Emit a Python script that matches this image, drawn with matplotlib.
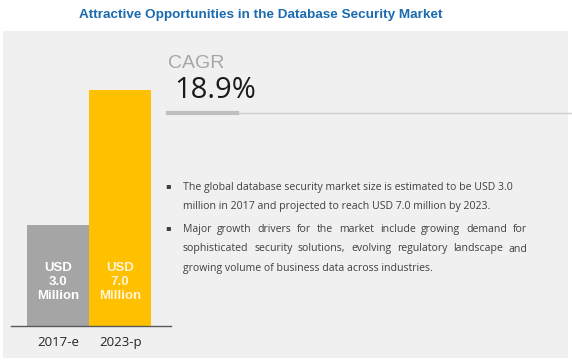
import matplotlib
matplotlib.use("Agg")
import matplotlib.pyplot as plt
from matplotlib.patches import Rectangle
from matplotlib.lines import Line2D

W, H = 572, 361

years = ["2017-e", "2023-p"]
values = [3.0, 7.0]
bar_labels = ["USD\n3.0\nMillion", "USD\n7.0\nMillion"]
bar_colors = ["#a5a5a5", "#ffc000"]
label_colors = ["#ffffff", "#fff4d6"]
title = "Attractive Opportunities in the Database Security Market"
cagr_label = "CAGR"
cagr_value = "18.9%"
bullets = [
    ["The global database security market size is estimated to be USD 3.0",
     "million in 2017 and projected to reach USD 7.0 million by 2023."],
    ["Major growth drivers for the market include growing demand for",
     "sophisticated security solutions, evolving regulatory landscape and",
     "growing volume of business data across industries."],
]

narrow = ["Liberation Sans Narrow", "Liberation Sans", "DejaVu Sans"]
body = ["Open Sans", "DejaVu Sans"]


def fx(x):
    return x / W


def fy(y):
    return 1 - y / H


fig = plt.figure(figsize=(W / 100, H / 100), dpi=100)
fig.patch.set_facecolor("white")

# grey panel
fig.patches.append(Rectangle((fx(3), fy(358)), fx(565), 327 / H, transform=fig.transFigure,
                             facecolor="#f0f0f0", edgecolor="none", zorder=-5))

fig.text(fx(261), fy(15), title, ha="center", va="center", fontsize=9.7,
         fontweight="bold", color="#1b6bb0", family=narrow)

# bar chart
ax = fig.add_axes([fx(11), 35 / H, fx(160), 270 / H])
ax.set_zorder(2)
ax.set_facecolor("none")
xs = range(len(values))
ax.bar(xs, values, width=1.0, color=bar_colors, zorder=2)
ax.set_xlim(-0.76, 1.82)
ax.set_ylim(0, 8)
for s in ["top", "right", "left"]:
    ax.spines[s].set_visible(False)
ax.spines["bottom"].set_color("#595959")
ax.spines["bottom"].set_linewidth(1.0)
ax.set_yticks([])
ax.set_xticks(list(xs))
ax.set_xticklabels(years, fontsize=9.5, color="#262626", family=["Open Sans", "DejaVu Sans"])
ax.tick_params(axis="x", length=0, pad=7)
for i, lab in enumerate(bar_labels):
    ax.text(i, 1.3, lab, ha="center", va="center", color=label_colors[i], fontsize=9.5,
            linespacing=1.2, family=narrow, fontweight="bold")

# CAGR block
fig.text(fx(168), fy(63), cagr_label, ha="left", va="center", fontsize=14,
         color="#a6a6a6", family=narrow)
fig.text(fx(174), fy(91), cagr_value, ha="left", va="center", fontsize=21,
         color="#1a1a1a", family=["Open Sans", "DejaVu Sans"])
fig.lines.append(Line2D([fx(168), fx(572)], [fy(113), fy(113)], transform=fig.transFigure,
                        color="#d0d0d0", lw=1.0))
fig.lines.append(Line2D([fx(168), fx(237)], [fy(113), fy(113)], transform=fig.transFigure,
                        color="#bfbfbf", lw=3.0))

# bullet text
renderer = fig.canvas.get_renderer()
x0, x1 = 183, 527
y = 187
step = 20
for b_i, lines in enumerate(bullets):
    fig.text(fx(168), fy(y - 1), "\u25aa", ha="center", va="center", fontsize=6, color="#404040")
    for l_i, line in enumerate(lines):
        justify = (b_i == 1 and l_i < len(lines) - 1)
        if not justify:
            fig.text(fx(x0), fy(y), line, ha="left", va="center", fontsize=7.6,
                     color="#404040", family=body)
        else:
            words = line.split()
            arts = [fig.text(fx(x0), fy(y), w_, ha="left", va="center", fontsize=7.6,
                             color="#404040", family=body) for w_ in words]
            widths = [a.get_window_extent(renderer).width for a in arts]
            gap = (x1 - x0 - sum(widths)) / (len(words) - 1)
            cx = x0
            for a, wdt in zip(arts, widths):
                a.set_x(fx(cx))
                cx += wdt + gap
        y += step
    y += 2

fig.savefig("out.png", dpi=100)
